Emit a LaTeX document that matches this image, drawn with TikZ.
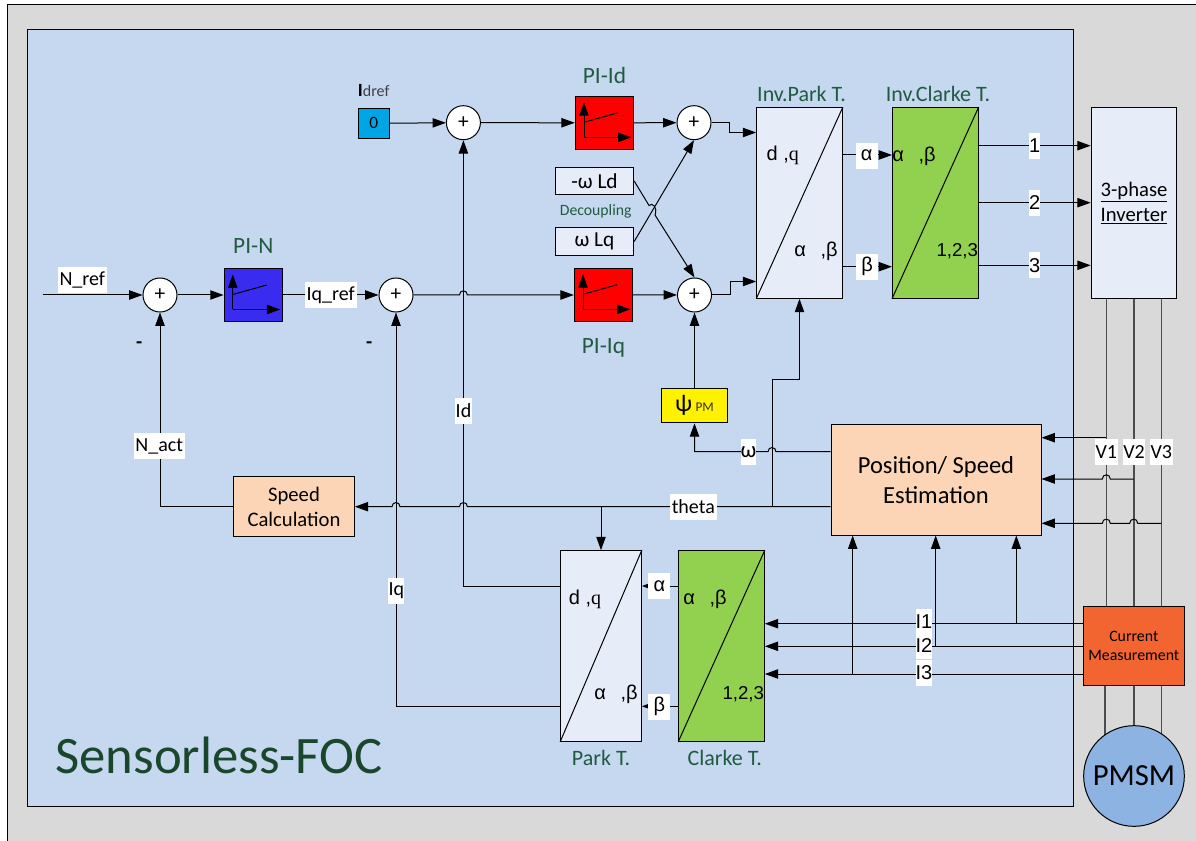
\documentclass[tikz,border=0pt]{standalone}
\usepackage{fontspec}
\setmainfont{Carlito}
\newfontfamily\arialfont{Liberation Sans}
\newfontfamily\timesfont{Liberation Serif}
\usetikzlibrary{arrows.meta,positioning}
\definecolor{frame}{HTML}{D9D9D9}
\definecolor{panel}{HTML}{C5D8F0}
\definecolor{pale}{HTML}{E7EDF8}
\definecolor{leaf}{HTML}{92D050}
\definecolor{peach}{HTML}{FBD5B5}
\definecolor{rust}{HTML}{F26531}
\definecolor{motor}{HTML}{8DB3E2}
\definecolor{sky}{HTML}{00A5E5}
\definecolor{royal}{HTML}{3A2BF0}
\definecolor{deepgreen}{HTML}{215B3F}
\definecolor{darkgreen}{HTML}{1A472B}
\newcommand{\hop}[2]{-- (#1-4,#2) .. controls (#1-4,#2-5.5) and (#1+4,#2-5.5) .. (#1+4,#2)}

\begin{document}
\begin{tikzpicture}[
            x=0.75pt, y=-0.75pt,
            line width=0.75pt,
            >={Triangle[length=10pt,width=7pt]},
            block/.style={draw, inner sep=0pt, align=center, font=\fontsize{15.5}{18.5}\selectfont},
            sum/.style={draw, circle, fill=white, minimum size=25.5pt, inner sep=0pt, font=\fontsize{16}{16}\selectfont},
            pi/.style={draw, minimum width=43.8pt, minimum height=39.75pt, inner sep=0pt},
            coef/.style={block, fill=pale, minimum width=58.8pt, minimum height=20.5pt, font=\fontsize{16}{18}\selectfont},
            transform/.style={draw, minimum width=64.2pt, minimum height=143pt, inner sep=0pt},
            title/.style={text=deepgreen, inner sep=0pt, font=\fontsize{16.5}{16.5}\selectfont},
            pititle/.style={text=deepgreen, inner sep=0pt, font=\fontsize{17.5}{17.5}\selectfont},
            port/.style={inner sep=0pt, font=\arialfont\fontsize{15}{15}\selectfont},
            tag/.style={fill=white, inner sep=0pt, minimum height=19.5pt, font=\fontsize{15}{15}\selectfont},
            numtag/.style={tag, font=\arialfont\fontsize{15}{15}\selectfont}
        ]
        \useasboundingbox (0,0) rectangle (1196,841);
        \fill[frame] (7,4) rectangle (1196,841);
        \draw (7.5,841) -- (7.5,4.5) -- (1196,4.5);
        \draw[fill=panel, line width=0.6pt] (27.5,29) rectangle (1073.5,806);

        % speed loop
        \node[sum] (sumn) at (160,295) {+};
        \node[pi, fill=royal] (pin) at (253.3,295) {};
        \node[pititle, above=10.5pt of pin] (tpin) {PI-N};
        \node[sum] (sumq) at (396,295) {+};
        \node[block, fill=peach, minimum width=90.5pt, minimum height=45pt] (speed) at (294,506.7) {Speed\\Calculation};
        \coordinate (nin) at (42.7,295);

        % current loops
        \node[block, fill=sky, minimum width=23pt, minimum height=22.5pt, font=\fontsize{13}{13}\selectfont] (idref) at (373.7,123.3) {0};
        \node[inner sep=0pt, above=8pt of idref, font=\fontsize{12}{12}\selectfont, text=black!75] (tidref) {{\bfseries\fontsize{14}{14}\selectfont\textcolor{black}{I}}dref};
        \node[sum] (sumd) at (463.4,122.7) {+};
        \node[pi, fill=red] (pid) at (604.5,122.8) {};
        \node[pititle, above=9pt of pid] (tpid) {PI-Id};
        \node[pi, fill=red] (piq) at (603.5,294.8) {};
        \node[pititle, below=12pt of piq] (tpiq) {PI-Iq};
        \node[sum] (sumdd) at (694,122.7) {+};
        \node[sum] (sumqq) at (694.5,295) {+};
        \node[coef] (negld) at (594.5,181) {-ω Ld};
        \node[coef] (poslq) at (594.5,241.5) {ω Lq};
        \node[text=deepgreen, inner sep=0pt, font=\fontsize{11.8}{11.8}\selectfont] (tdec) at (595.7,211) {Decoupling};
        \node[block, fill=yellow, minimum width=50pt, minimum height=26pt] (psi) at (694.5,405.5) {{\fontsize{18}{18}\selectfont ψ}\,{\fontsize{10}{10}\selectfont\textcolor{black!80}{PM}}};

        % transforms
        \node[transform, fill=pale] (ipark) at (799.5,203) {};
        \node[title, above=4pt of ipark, xshift=1.5pt] (tipark) {Inv.Park T.};
        \node[transform, fill=leaf] (iclarke) at (935.3,203) {};
        \node[title, above=4pt of iclarke, xshift=2pt] (ticlarke) {Inv.Clarke T.};
        \node[block, fill=pale, minimum width=64.2pt, minimum height=143pt] (inv) at (1134,203) {\underline{3-phase}\\\underline{Inverter}};
        \node[transform, fill=pale, minimum width=60.5pt] (park) at (601,646) {};
        \node[title, below=6pt of park] (tpark) {Park T.};
        \node[transform, fill=leaf] (clarke) at (721.5,646) {};
        \node[title, below=6pt of clarke, xshift=2.5pt] (tclarke) {Clarke T.};

        % estimator and machine
        \node[block, fill=peach, minimum width=157.5pt, minimum height=83pt, font=\fontsize{18.4}{22.6}\selectfont] (post) at (936,479.7) {Position/ Speed\\Estimation};
        \node[block, fill=rust, minimum width=75.75pt, minimum height=59.8pt, font=\fontsize{11.9}{14}\selectfont] (meas) at (1133.8,646) {Current\\Measurement};
        \node (sensorless) at (219,755) [inner sep=0pt, text=darkgreen, font=\fontsize{39.5}{39.5}\selectfont] {Sensorless-FOC};

        % PI glyphs and diagonals
        \foreach \blk in {pid,piq,pin} {
            \draw[->] ([shift={(-20.5,14.5)}]\blk.center) -- ([shift={(-20.5,-20.5)}]\blk.center);
            \draw[->] ([shift={(-20.5,14.5)}]\blk.center) -- ([shift={(27,14.5)}]\blk.center);
            \draw ([shift={(-20.5,-0.5)}]\blk.center) -- ([shift={(13.5,-10)}]\blk.center);
        }
        \foreach \blk in {ipark,iclarke,park,clarke} {
            \draw (\blk.south west) -- (\blk.north east);
        }

        % named taps
        \coordinate (tapone) at (1106.3,437.7);
        \coordinate (taptwo) at (1133.7,479);
        \coordinate (tapthree) at (1161.3,523.3);
        \coordinate (thetafork) at (park.north |- speed.east);
        \coordinate (thetaup) at (772,506.7);
        \coordinate (curone) at (1016.3,623.7);
        \coordinate (curtwo) at (935.7,646.3);
        \coordinate (curthree) at (852.7,674);

        % forward path
        \draw[->] (nin) -- (sumn);
        \draw[->] (sumn) -- (pin);
        \draw[->] (pin) -- (sumq);
        \draw[->] (sumq) \hop{463.4}{295} -- (piq.west |- sumq);
        \draw[->] (idref) -- (sumd);
        \draw[->] (sumd) -- (pid);
        \draw[->] (pid) -- (sumdd);
        \draw[->] (piq) -- (sumqq);
        \draw[->] (sumdd) -- (729.3,122.7) -- (729.3,132.5) -- (ipark.west |- 0,132.5);
        \draw[->] (sumqq) -- (730.3,295) -- (730.3,281.5) -- (ipark.west |- 0,281.5);
        \draw (negld.east) -- (649,205.5) .. controls (652,202) and (658,207) .. (655,215);
        \draw[->] (655,215) -- (sumqq.north);
        \draw[->] (poslq.east) -- (sumdd.south);
        \draw[->] (psi) -- (sumqq);

        \draw[->] (ipark.east |- 0,155) -- (iclarke.west |- 0,155);
        \draw[->] (ipark.east |- 0,266.7) -- (iclarke.west |- 0,266.7);
        \draw[->] (iclarke.east |- 0,145.7) -- (inv.west |- 0,145.7);
        \draw[->] (iclarke.east |- 0,202.7) -- (inv.west |- 0,202.7);
        \draw[->] (iclarke.east |- 0,265.3) -- (inv.west |- 0,265.3);

        % feedback
        \draw[->] (speed.west) -| (sumn.south);
        \draw[<-] (speed.east) \hop{396}{506.7} \hop{463.4}{506.7} -- (post.west |- speed.east);
        \draw[->] (thetafork) -- (park.north);
        \draw[->] (thetaup) |- (799.5,380) -- (ipark.south);
        \draw[<-] (psi.south) -- (694.5,451.7) \hop{772}{451.7} -- (post.west |- 0,451.7);
        \draw[->] (park.west |- 0,586) -| (sumd.south);
        \draw[->] (park.west |- 0,706.3) -| (sumq.south);
        \draw[<-] (park.east |- 0,586) -- (clarke.west |- 0,586);
        \draw[<-] (park.east |- 0,706.3) -- (clarke.west |- 0,706.3);

        % measured signals
        \draw[black!70, line width=1pt] (inv.south -| tapone) -- (meas.north -| tapone);
        \draw[black!70, line width=1.2pt] (inv.south -| taptwo) -- (meas.north -| taptwo);
        \draw[black!70, line width=1pt] (inv.south -| tapthree) -- (meas.north -| tapthree);
        \draw[<-] (post.east |- tapone) -- (tapone);
        \draw[<-] (post.east |- taptwo) \hop{1106.3}{479} -- (taptwo);
        \draw[<-] (post.east |- tapthree) \hop{1106.3}{523.3} \hop{1133.7}{523.3} -- (tapthree);
        \draw[<-] (clarke.east |- curone) -- (meas.west |- curone);
        \draw[<-] (clarke.east |- curtwo) -- (meas.west |- curtwo);
        \draw[<-] (clarke.east |- curthree) -- (meas.west |- curthree);
        \draw[->] (curone) -- (curone |- post.south);
        \draw[->] (curtwo) -- (curtwo |- post.south);
        \draw[->] (curthree) -- (curthree |- post.south);

        % motor
        \draw[black!70, line width=1pt] (meas.south -| 1105,0) -- (1105,740);
        \draw[black!70, line width=1.2pt] (meas.south -| taptwo) -- (1133.7,740);
        \draw[black!70, line width=1pt] (meas.south -| tapthree) -- (1161.3,740);
        \node[draw, circle, fill=motor, minimum size=75.5pt, inner sep=0pt, font=\fontsize{23}{23}\selectfont] (pmsm) at (1134,776) {PMSM};

        % text on the wires
        \node[tag, minimum width=37pt] (tnref) at (82.3,280) {N\_ref};
        \node[tag, minimum width=39pt] (tqref) at (330.7,295) {Iq\_ref};
        \node[tag, minimum width=38pt] (tnact) at (159.3,446) {N\_act};
        \node[tag, minimum width=13pt] (tid) at (463.5,411) {Id};
        \node[tag, minimum width=12pt] (tiq) at (396.3,591) {Iq};
        \node[tag, minimum width=35pt] (ttheta) at (693.3,506.7) {theta};
        \node[tag, minimum width=11.5pt, font=\fontsize{17}{17}\selectfont] (tomega) at (748.6,452) {ω};
        \node[inner sep=0pt, font=\fontsize{15}{15}\selectfont\bfseries] (tminusn) at (139.3,345) {-};
        \node[inner sep=0pt, font=\fontsize{15}{15}\selectfont\bfseries] (tminusq) at (369.3,345) {-};
        \node[numtag, minimum width=16.5pt] (talpha) at (866.7,155.7) {α};
        \node[numtag, minimum width=16pt] (tbeta) at (867,266.7) {β};
        \node[numtag, minimum width=8pt] (tone) at (1034.7,145.7) {1};
        \node[numtag, minimum width=8pt] (ttwo) at (1034.7,202.7) {2};
        \node[numtag, minimum width=8pt] (tthree) at (1034.7,265.3) {3};
        \node[numtag, minimum width=16.5pt] (tparka) at (659.3,586) {α};
        \node[numtag, minimum width=16.5pt] (tparkb) at (659.3,706.7) {β};
        \node[numtag, minimum width=12pt] (ticur) at (924,622) {I1};
        \node[numtag, minimum width=12pt] (tiicur) at (924,645.7) {I2};
        \node[numtag, minimum width=12pt] (tiiicur) at (924,672.7) {I3};
        \node[tag, minimum width=17pt] (tvone) at (1106.3,451.7) {V1};
        \node[tag, minimum width=17pt] (tvtwo) at (1134,451.7) {V2};
        \node[tag, minimum width=17pt] (tvthree) at (1161.3,451.7) {V3};

        % text inside the transforms
        \node[port] (dqip) at (782.7,155) {d ,{\timesfont q}};
        \node[port] (abip) at (816,251.7) {α\hspace{11pt},β};
        \node[port] (abic) at (914,156.7) {α\hspace{11pt},β};
        \node[port, font=\arialfont\fontsize{14}{14}\selectfont] (numic) at (957.3,251) {1,2,3};
        \node[port] (dqp) at (585,599.3) {d ,{\timesfont q}};
        \node[port] (abp) at (616,694.3) {α\hspace{11pt},β};
        \node[port] (abc) at (705,599.3) {α\hspace{11pt},β};
        \node[port, font=\arialfont\fontsize{14}{14}\selectfont] (numc) at (743.3,694) {1,2,3};
    \end{tikzpicture}
\end{document}
